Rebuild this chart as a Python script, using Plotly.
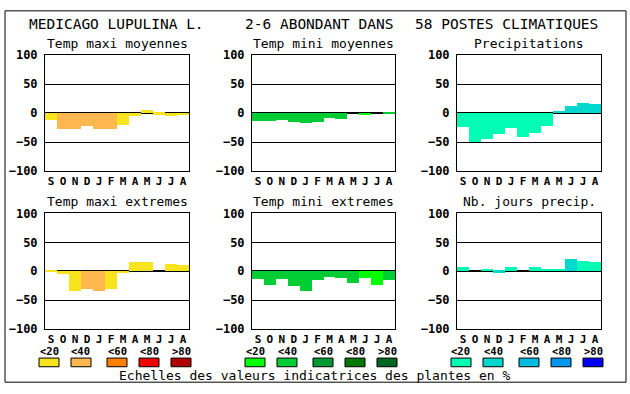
import plotly.graph_objects as go

W, H = 630, 394

months = ["S", "O", "N", "D", "J", "F", "M", "A", "M", "J", "J", "A"]
y_ticks = [-100, -50, 0, 50, 100]
legend_labels = ["<20", "<40", "<60", "<80", ">80"]

palette_yellow = ["#f8e41c", "#ffb850", "#ff8000", "#ee0000", "#b00000"]
palette_green = ["#00ff00", "#00cc33", "#009933", "#007700", "#006622"]
palette_blue = ["#00ffb4", "#00d8cc", "#00bce0", "#0098ee", "#0000ff"]

title_parts = ["MEDICAGO LUPULINA L.", "2-6 ABONDANT DANS", "58 POSTES CLIMATIQUES"]
footer_text = "Echelles des valeurs indicatrices des plantes en %"

# Panel data: values and colour level (1-5) per month
tmax_moy_title = "Temp maxi moyennes"
tmax_moy_vals = [-12, -28, -28, -23, -28, -28, -21, -6, 5, -3, -6, -4]
tmax_moy_lvl = [1, 2, 2, 2, 2, 2, 1, 1, 1, 1, 1, 1]

tmin_moy_title = "Temp mini moyennes"
tmin_moy_vals = [-14, -14, -13, -16, -18, -16, -8, -11, 0, -4, 0, -2]
tmin_moy_lvl = [2, 2, 2, 2, 2, 2, 2, 2, 2, 1, 2, 2]

precip_title = "Precipitations"
precip_vals = [-25, -50, -46, -36, -26, -42, -35, -23, 4, 12, 17, 15]
precip_lvl = [1, 1, 1, 1, 1, 1, 1, 1, 2, 2, 2, 2]

tmax_ext_title = "Temp maxi extremes"
tmax_ext_vals = [-2, -6, -34, -31, -34, -31, -4, 16, 16, 0, 12, 11]
tmax_ext_lvl = [1, 1, 1, 2, 2, 1, 1, 1, 1, 1, 1, 1]

tmin_ext_title = "Temp mini extremes"
tmin_ext_vals = [-14, -24, -14, -27, -34, -16, -11, -13, -21, -13, -24, -16]
tmin_ext_lvl = [2, 2, 2, 2, 2, 2, 2, 2, 2, 1, 1, 2]

jours_title = "Nb. jours precip."
jours_vals = [7, 0, 4, -3, 6, 0, 7, 4, 2, 20, 17, 16]
jours_lvl = [1, 1, 1, 2, 1, 1, 1, 1, 1, 2, 1, 1]

panels = [
    (tmax_moy_title, tmax_moy_vals, tmax_moy_lvl, palette_yellow),
    (tmin_moy_title, tmin_moy_vals, tmin_moy_lvl, palette_green),
    (precip_title, precip_vals, precip_lvl, palette_blue),
    (tmax_ext_title, tmax_ext_vals, tmax_ext_lvl, palette_yellow),
    (tmin_ext_title, tmin_ext_vals, tmin_ext_lvl, palette_green),
    (jours_title, jours_vals, jours_lvl, palette_blue),
]

# layout geometry in pixels
col_x = [(45, 189), (252, 395), (457, 601)]
row_y = [(50, 170), (214, 334)]

MONO = "DejaVu Sans Mono"

fig = go.Figure()
annotations = []
shapes = []

for i, (ttl, vals, lvl, pal) in enumerate(panels):
    r, c = divmod(i, 3)
    x0, x1 = col_x[c]
    y0, y1 = row_y[r]
    k = i + 1
    xa = "x" if k == 1 else f"x{k}"
    ya = "y" if k == 1 else f"y{k}"
    fig.add_trace(go.Bar(
        x=list(range(12)), y=vals,
        marker=dict(color=[pal[l - 1] for l in lvl], line=dict(width=0)),
        width=1.0, xaxis=xa, yaxis=ya, showlegend=False, hoverinfo="skip",
    ))
    xkey = "xaxis" if k == 1 else f"xaxis{k}"
    ykey = "yaxis" if k == 1 else f"yaxis{k}"
    fig.layout[xkey] = dict(
        domain=[x0 / W, x1 / W], anchor=ya, range=[-0.5, 11.5],
        tickvals=list(range(12)), ticktext=months, ticks="",
        tickfont=dict(family=MONO, size=11, color="black", weight="bold"),
        showline=True, mirror=True, linecolor="black", linewidth=1,
        showgrid=False, zeroline=False, fixedrange=True, ticklen=0,
    )
    fig.layout[ykey] = dict(
        domain=[1 - y1 / H, 1 - y0 / H], anchor=xa, range=[-100, 100],
        tickvals=y_ticks, ticks="", ticklen=0, ticklabelstandoff=4,
        tickfont=dict(family=MONO, size=12, color="black", weight="bold"),
        showline=True, mirror=True, linecolor="black", linewidth=1,
        showgrid=True, gridcolor="black", gridwidth=1,
        zeroline=True, zerolinecolor="black", zerolinewidth=2,
        layer="above traces", fixedrange=True,
    )
    annotations.append(dict(
        text=ttl, x=(x0 + x1) / 2 / W, y=1 - (y0 - 12) / H,
        xref="paper", yref="paper", showarrow=False,
        xanchor="center", yanchor="middle",
        font=dict(family=MONO, size=13, color="black"),
    ))

# main title pieces
for txt, px in zip(title_parts, [27, 243, 413]):
    annotations.append(dict(
        text=txt, x=px / W, y=1 - 18 / H, xref="paper", yref="paper",
        showarrow=False, xanchor="left", yanchor="middle",
        font=dict(family=MONO, size=14.5, color="black"),
    ))

# colour legends
legend_x = [
    [39, 71, 107, 139, 171],
    [245, 277, 313, 345, 377],
    [451, 483, 519, 551, 583],
]
for pal, xs in zip([palette_yellow, palette_green, palette_blue], legend_x):
    for col, lab, lx in zip(pal, legend_labels, xs):
        shapes.append(dict(
            type="rect", xref="paper", yref="paper",
            x0=lx / W, x1=(lx + 20) / W, y0=1 - 373 / H, y1=1 - 364 / H,
            fillcolor=col, line=dict(color="black", width=1),
        ))
        annotations.append(dict(
            text=lab, x=(lx + 10) / W, y=1 - 356.5 / H,
            xref="paper", yref="paper", showarrow=False,
            xanchor="center", yanchor="middle", borderpad=0,
            font=dict(family=MONO, size=10.5, color="black", weight="bold"),
        ))

annotations.append(dict(
    text=footer_text, x=315 / W, y=1 - 382 / H, xref="paper", yref="paper",
    showarrow=False, xanchor="center", yanchor="middle",
    font=dict(family=MONO, size=13, color="black"),
))

# outer frame
shapes.append(dict(
    type="rect", xref="paper", yref="paper",
    x0=5 / W, x1=626 / W, y0=1 - 389 / H, y1=1 - 4 / H,
    line=dict(color="black", width=1), fillcolor="rgba(0,0,0,0)",
))

fig.update_layout(
    width=W, height=H, margin=dict(l=0, r=0, t=0, b=0),
    paper_bgcolor="white", plot_bgcolor="white",
    bargap=0, annotations=annotations, shapes=shapes,
    showlegend=False,
)

fig.write_html(
    "out.html",
    config={"displayModeBar": False},
    post_script="document.body.style.margin='0';document.body.style.padding='0';",
)
